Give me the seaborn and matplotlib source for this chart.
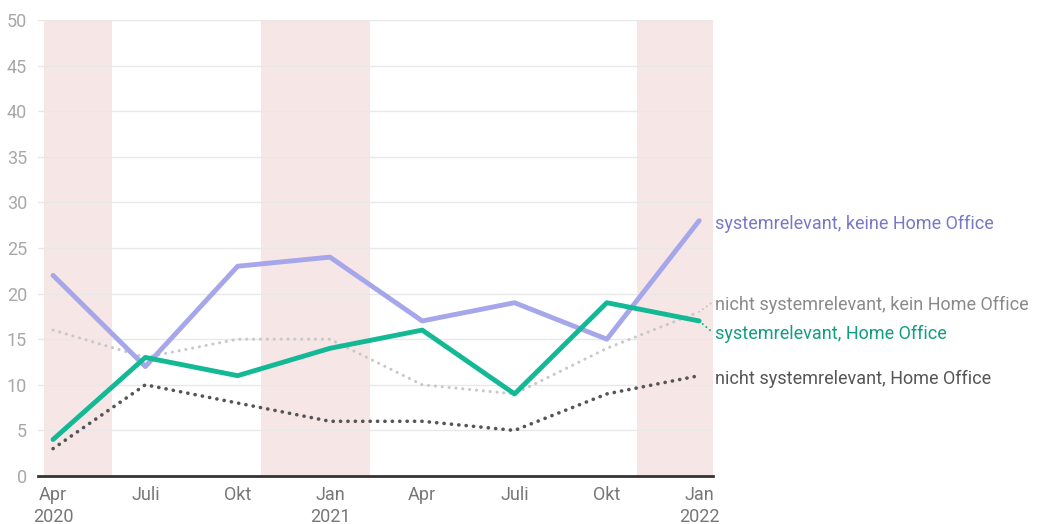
import numpy as np
import pandas as pd
import matplotlib
matplotlib.use("Agg")
import matplotlib.pyplot as plt
import seaborn as sns

# ---- data ----
periods = ["Apr\n2020", "Juli", "Okt", "Jan\n2021", "Apr", "Juli", "Okt", "Jan\n2022"]
sys_no_ho = [22, 12, 23, 24, 17, 19, 15, 28]
sys_ho = [4, 13, 11, 14, 16, 9, 19, 17]
nonsys_no_ho = [16, 13, 15, 15, 10, 9, 14, 18]
nonsys_ho = [3, 10, 8, 6, 6, 5, 9, 11]
series_names = [
    "systemrelevant, keine Home Office",
    "nicht systemrelevant, kein Home Office",
    "systemrelevant, Home Office",
    "nicht systemrelevant, Home Office",
]
lockdowns = [(-0.1, 0.64), (2.25, 3.43), (6.33, 7.2)]
y_ticks = [0, 5, 10, 15, 20, 25, 30, 35, 40, 45, 50]

sns.set_theme(style="white")
plt.rcParams["font.family"] = ["Roboto", "DejaVu Sans"]

W, H = 1037, 524
fig = plt.figure(figsize=(W / 100, H / 100), dpi=100)
ax = fig.add_axes([38 / W, 48 / H, (713 - 38) / W, (476 - 20) / H])

x = np.arange(len(periods))
df = pd.DataFrame({"x": x, "a": sys_no_ho, "b": nonsys_no_ho, "c": sys_ho, "d": nonsys_ho})

for lo, hi in lockdowns:
    ax.axvspan(lo, hi, color="#f7e6e6", lw=0, zorder=0)

for yv in y_ticks[1:]:
    ax.axhline(yv, color="#e8e8e8", lw=1, zorder=0.5)

styles = {
    "b": dict(color="#c8c8c8", lw=2.2, ls=(0, (0.05, 2.2))),
    "d": dict(color="#555555", lw=2.6, ls=(0, (0.05, 2.0))),
    "a": dict(color="#a6a6ea", lw=3.5, ls="-"),
    "c": dict(color="#12b994", lw=3.5, ls="-"),
}
for key in ["b", "d", "a", "c"]:
    st = styles[key]
    sns.lineplot(data=df, x="x", y=key, ax=ax, color=st["color"], lw=st["lw"],
                 linestyle=st["ls"], zorder=3, solid_capstyle="round",
                 dash_capstyle="round")

ax.set_xlim(-0.163, 7.15)
ax.set_ylim(0, 50)
ax.set_xticks(x)
ax.set_xticklabels(periods)
ax.set_yticks(y_ticks)
ax.set_xlabel("")
ax.set_ylabel("")
ax.tick_params(axis="both", length=0, labelsize=13, colors="#a8a8a8")
ax.tick_params(axis="x", pad=7, colors="#777777")
ax.tick_params(axis="y", pad=8)
for lab in ax.get_xticklabels():
    lab.set_linespacing(1.28)
    lab.set_va("top")

for s in ["top", "right", "left"]:
    ax.spines[s].set_visible(False)
ax.spines["bottom"].set_color("#333333")
ax.spines["bottom"].set_linewidth(2)
ax.spines["bottom"].set_zorder(4)

# end labels
xl = 7.17
labels = [
    (series_names[0], 27.6, "#7878c8"),
    (series_names[1], 18.8, "#8a8a8a"),
    (series_names[2], 15.6, "#119e80"),
    (series_names[3], 10.6, "#555555"),
]
for name, yl, col in labels:
    ax.text(xl, yl, name, color=col, fontsize=13, va="center", ha="left",
            clip_on=False)
ax.plot([7, 7.15], [nonsys_no_ho[-1], 19.1], color="#c8c8c8", lw=1.5,
        ls=(0, (0.05, 2.2)), dash_capstyle="round", clip_on=False, zorder=3)
ax.plot([7, 7.15], [sys_ho[-1], 15.7], color="#12b994", lw=1.5,
        ls=(0, (0.05, 2.2)), dash_capstyle="round", clip_on=False, zorder=3)

fig.savefig("out.png", dpi=100)
